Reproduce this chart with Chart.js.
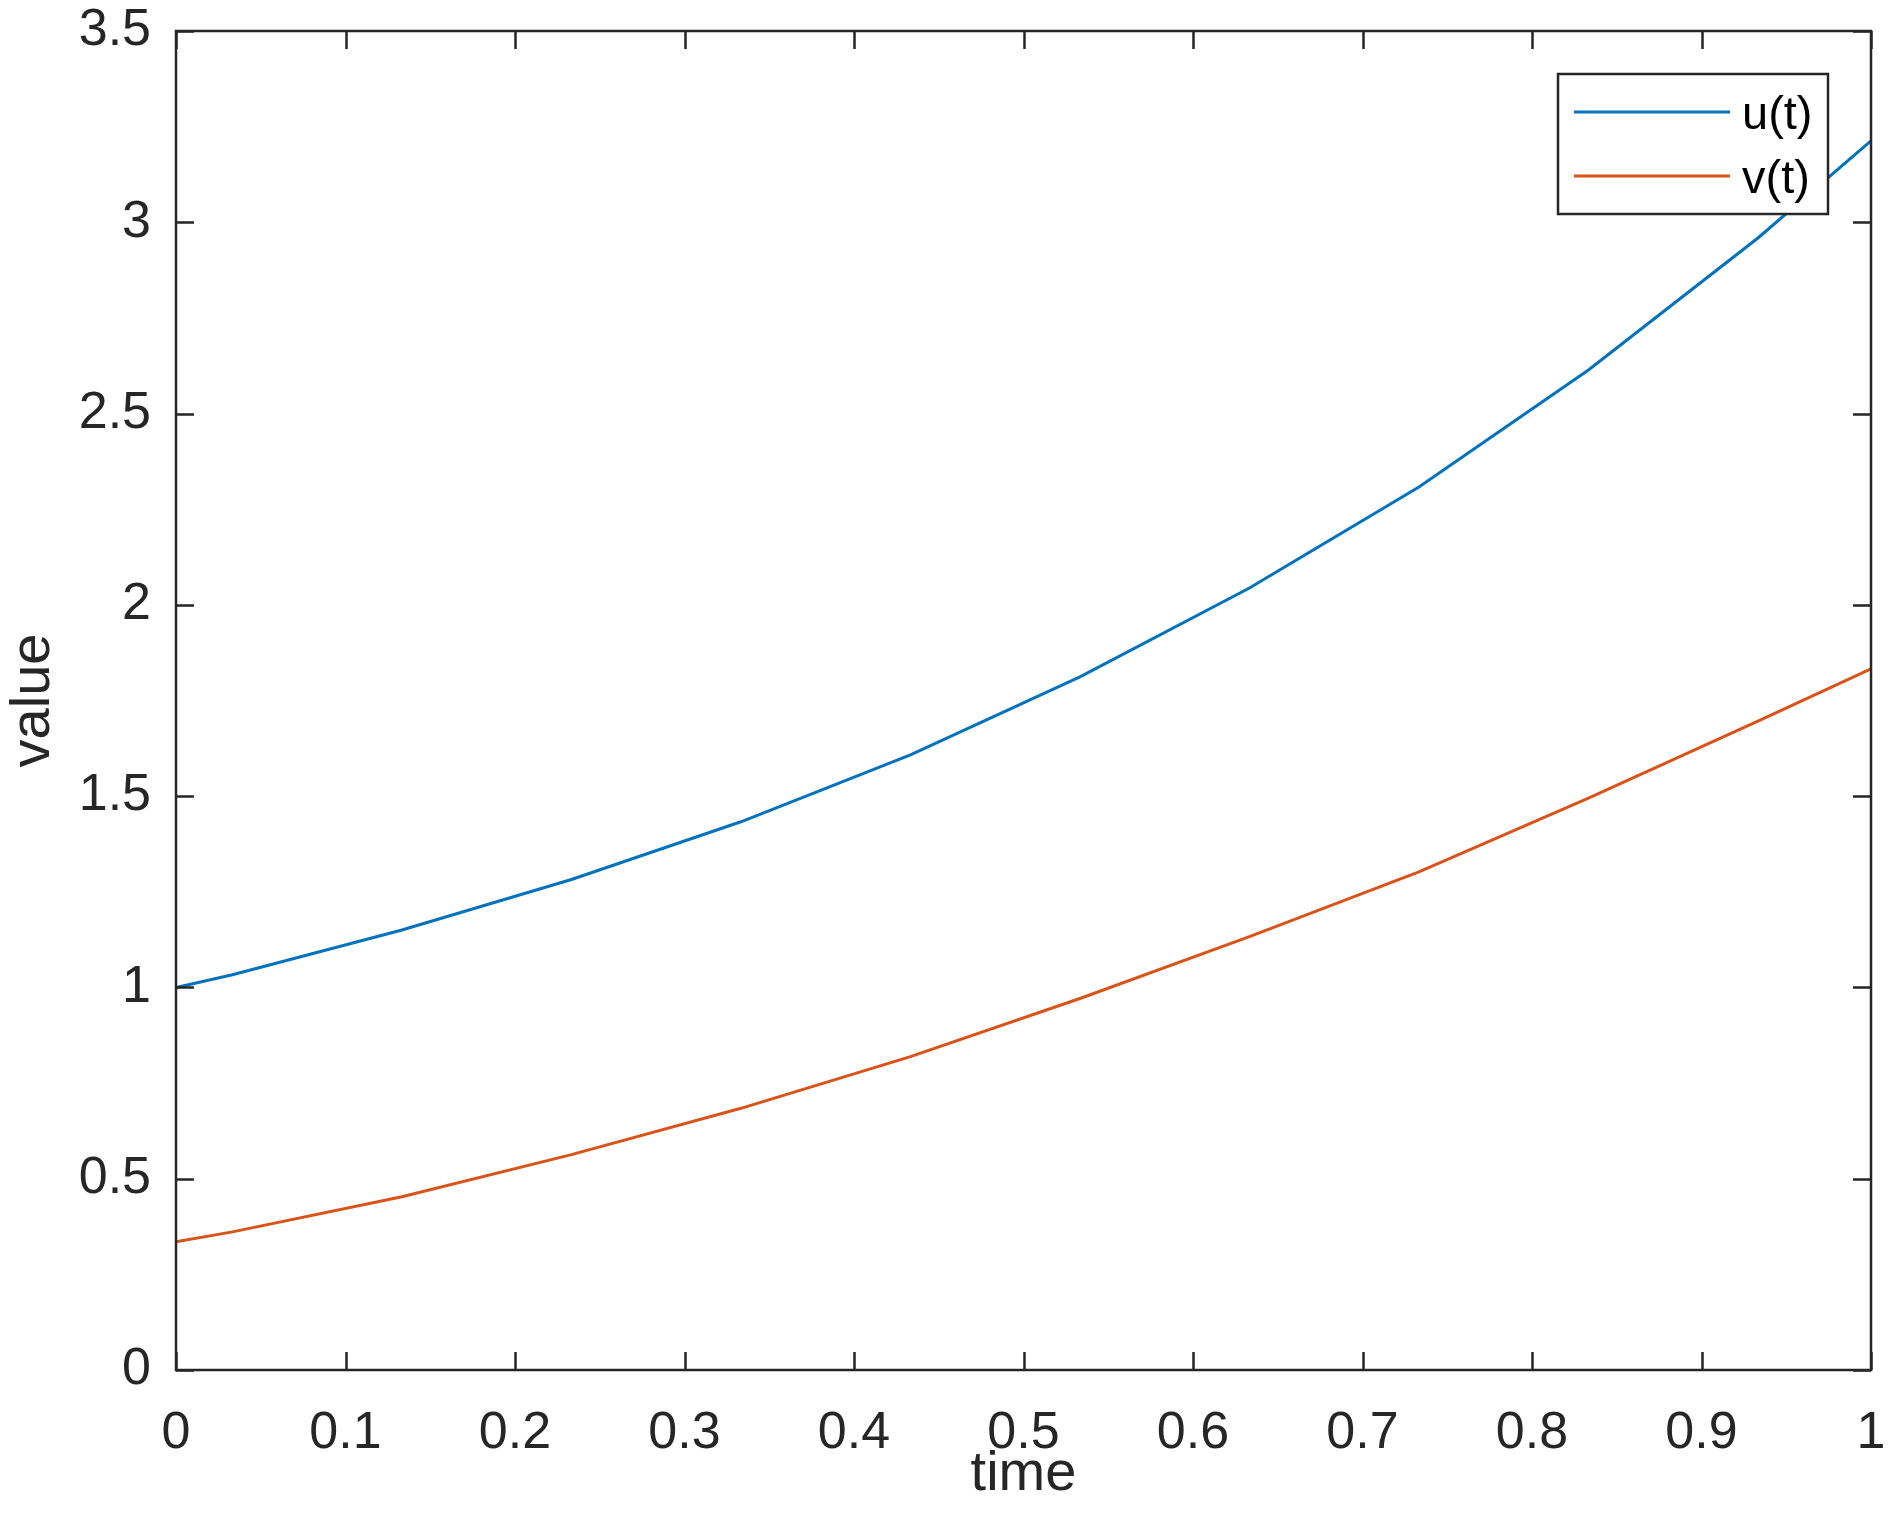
<!DOCTYPE html>
<html>
<head>
<meta charset="utf-8">
<script src="https://cdn.jsdelivr.net/npm/chart.js@4.4.1/dist/chart.umd.min.js"></script>
<style>
html,body{margin:0;padding:0;background:#ffffff;}
canvas{display:block;}
</style>
</head>
<body>
<canvas id="c" width="1896" height="1539"></canvas>
<script>
// ---- data ----
const times   = [0, 0.0333, 0.1333, 0.2333, 0.3333, 0.4333, 0.5333, 0.6333, 0.7333, 0.8333, 0.9333, 1.0];
const uValues = [1.000, 1.033, 1.150, 1.282, 1.433, 1.608, 1.812, 2.044, 2.308, 2.614, 2.959, 3.213];
const vValues = [0.335, 0.361, 0.453, 0.563, 0.684, 0.819, 0.971, 1.133, 1.302, 1.495, 1.696, 1.833];
const seriesNames  = ['u(t)', 'v(t)'];
const seriesColors = ['#0072BD', '#D95319'];
const xTickValues = [0, 0.1, 0.2, 0.3, 0.4, 0.5, 0.6, 0.7, 0.8, 0.9, 1];
const xTickLabels = ['0', '0.1', '0.2', '0.3', '0.4', '0.5', '0.6', '0.7', '0.8', '0.9', '1'];
const yTickValues = [0, 0.5, 1, 1.5, 2, 2.5, 3, 3.5];
const yTickLabels = ['0', '0.5', '1', '1.5', '2', '2.5', '3', '3.5'];
const xTitle = 'time';
const yTitle = 'value';

const FONT = '"Liberation Sans", Arial, Helvetica, sans-serif';
const INK = '#262626';
Chart.defaults.font.family = FONT;
Chart.defaults.color = INK;

const toPoints = (xs, ys) => xs.map((t, i) => ({x: t, y: ys[i]}));

const frameTicks = {
  id: 'frameTicks',
  afterDatasetsDraw(chart) {
    const {ctx, chartArea: a, scales: {x, y}} = chart;
    const L = 18;
    ctx.save();
    ctx.strokeStyle = INK;
    ctx.lineWidth = 2.5;
    ctx.beginPath();
    xTickValues.forEach(v => {
      const px = Math.round(x.getPixelForValue(v)) + 0.5;
      ctx.moveTo(px, a.bottom); ctx.lineTo(px, a.bottom - L);
      ctx.moveTo(px, a.top); ctx.lineTo(px, a.top + L);
    });
    yTickValues.forEach(v => {
      const py = Math.round(y.getPixelForValue(v)) + 0.5;
      ctx.moveTo(a.left, py); ctx.lineTo(a.left + L, py);
      ctx.moveTo(a.right, py); ctx.lineTo(a.right - L, py);
    });
    ctx.stroke();
    ctx.strokeRect(a.left, a.top, a.right - a.left, a.bottom - a.top);
    ctx.restore();
  }
};

const boxedLegend = {
  id: 'boxedLegend',
  afterDraw(chart) {
    const {ctx, chartArea: a} = chart;
    const w = 270, h = 140;
    const right = a.right - 43, top = a.top + 43;
    const left = right - w;
    ctx.save();
    ctx.fillStyle = '#ffffff';
    ctx.fillRect(left, top, w, h);
    ctx.strokeStyle = INK;
    ctx.lineWidth = 2.5;
    ctx.strokeRect(left, top, w, h);
    ctx.font = '47px ' + FONT;
    ctx.textBaseline = 'middle';
    ctx.textAlign = 'left';
    chart.data.datasets.forEach((ds, i) => {
      const ly = top + 38 + i * 64;
      ctx.strokeStyle = ds.borderColor;
      ctx.lineWidth = 3;
      ctx.beginPath();
      ctx.moveTo(left + 16, ly);
      ctx.lineTo(left + 172, ly);
      ctx.stroke();
      ctx.fillStyle = '#000000';
      ctx.fillText(ds.label, left + 184, ly + 4);
    });
    ctx.restore();
  }
};

const zeroPad = s => { s.paddingTop = 0; s.paddingBottom = 0; s.paddingLeft = 0; s.paddingRight = 0; };

new Chart(document.getElementById('c'), {
  type: 'line',
  data: {
    datasets: [
      {label: seriesNames[0], data: toPoints(times, uValues), borderColor: seriesColors[0], backgroundColor: seriesColors[0], borderWidth: 3, pointRadius: 0, tension: 0, fill: false},
      {label: seriesNames[1], data: toPoints(times, vValues), borderColor: seriesColors[1], backgroundColor: seriesColors[1], borderWidth: 3, pointRadius: 0, tension: 0, fill: false}
    ]
  },
  options: {
    responsive: false,
    animation: false,
    devicePixelRatio: 1,
    layout: {padding: {top: 31, right: 25, left: 0, bottom: 0}},
    plugins: {legend: {display: false}, tooltip: {enabled: false}},
    scales: {
      x: {
        type: 'linear', min: 0, max: 1,
        grid: {display: false}, border: {display: false},
        afterBuildTicks: s => { s.ticks = xTickValues.map(v => ({value: v})); },
        afterFit: s => { s.height = 169; zeroPad(s); },
        ticks: {
          autoSkip: false, maxRotation: 0, padding: 24,
          font: {size: 52, lineHeight: 1.2}, color: INK,
          callback: (val, i) => xTickLabels[i]
        },
        title: {display: true, text: xTitle, font: {size: 56, lineHeight: 1.2}, color: INK, padding: {top: 31, bottom: 31}}
      },
      y: {
        type: 'linear', min: 0, max: 3.5,
        grid: {display: false}, border: {display: false},
        afterBuildTicks: s => { s.ticks = yTickValues.map(v => ({value: v})); },
        afterFit: s => { s.width = 176; zeroPad(s); },
        ticks: {
          autoSkip: false, padding: 17,
          font: {size: 52, lineHeight: 1.2}, color: INK,
          callback: (val, i) => yTickLabels[i]
        },
        title: {display: true, text: yTitle, font: {size: 56, lineHeight: 1.2}, color: INK, padding: {top: 0, bottom: 0}}
      }
    }
  },
  plugins: [frameTicks, boxedLegend]
});
</script>
</body>
</html>
